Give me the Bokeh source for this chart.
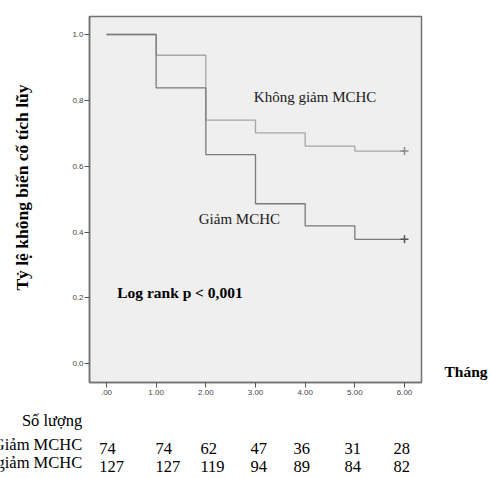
import math
from bokeh.plotting import figure
from bokeh.models import Range1d, Label, FixedTicker
from bokeh.layouts import row, column
from bokeh.embed import file_html
from bokeh.resources import INLINE

# ---- data ----
months = [0, 1, 2, 3, 4, 5, 6]
x_tick_labels = [".00", "1.00", "2.00", "3.00", "4.00", "5.00", "6.00"]
y_ticks = [0.0, 0.2, 0.4, 0.6, 0.8, 1.0]
y_tick_labels = ["0.0", "0.2", "0.4", "0.6", "0.8", "1.0"]

surv_khong_giam = [1.0, 0.937, 0.740, 0.701, 0.661, 0.646]  # Không giảm MCHC
surv_giam = [1.0, 0.838, 0.635, 0.486, 0.419, 0.378]         # Giảm MCHC

group_names = ["Giảm MCHC", "Không giảm MCHC"]
risk_giam = [74, 74, 62, 47, 36, 31, 28]
risk_khong_giam = [127, 127, 119, 94, 89, 84, 82]

# ---- layout constants ----
FONT = "Liberation Serif"
col_x = [-0.147, 0.987, 1.892, 2.899, 3.765, 4.792, 5.778]
X0, X1 = -0.342, 6.342
Y0, Y1 = -0.0568, 1.0547
LEFT_W, MAIN_W, RIGHT_W = 60, 365, 66
TOP_H, TABLE_H = 405, 72
MAIN_BL, MAIN_BR, MAIN_BT, MAIN_BB = 29, 4, 16, 23


def blank(w, h, xr, yr):
    f = figure(width=w, height=h, x_range=xr, y_range=yr,
               x_axis_type=None, y_axis_type=None,
               min_border=0, min_border_left=0, min_border_right=0,
               min_border_top=0, min_border_bottom=0,
               output_backend="svg", toolbar_location=None)
    f.outline_line_color = None
    f.background_fill_color = "white"
    f.border_fill_color = "white"
    f.xgrid.visible = False
    f.ygrid.visible = False
    return f


# ---- main plot ----
p = figure(width=MAIN_W, height=TOP_H,
           min_border_left=MAIN_BL, min_border_right=MAIN_BR,
           min_border_top=MAIN_BT, min_border_bottom=MAIN_BB,
           x_range=Range1d(X0, X1), y_range=Range1d(Y0, Y1),
           output_backend="svg", toolbar_location=None)
p.background_fill_color = "#efefef"
p.border_fill_color = "white"
p.outline_line_color = "#727272"
p.outline_line_width = 1.5
p.xgrid.visible = False
p.ygrid.visible = False

for ax in (p.xaxis[0], p.yaxis[0]):
    ax.axis_line_color = "#727272"
    ax.axis_line_width = 1.5
    ax.major_tick_line_color = "#555555"
    ax.major_tick_in = 0
    ax.major_tick_out = 5
    ax.minor_tick_line_color = None
    ax.major_label_text_font = "Liberation Sans"
    ax.major_label_text_font_size = "8px"
    ax.major_label_text_color = "#444444"
p.xaxis.major_label_standoff = 2
p.yaxis.major_label_standoff = 1

p.xaxis.ticker = FixedTicker(ticks=months)
p.xaxis.major_label_overrides = {m: l for m, l in zip(months, x_tick_labels)}
p.yaxis.ticker = FixedTicker(ticks=y_ticks)
p.yaxis.major_label_overrides = {t: l for t, l in zip(y_ticks, y_tick_labels)}


def step_xy(surv):
    return months[:len(surv)] + [months[-1]], surv + [surv[-1]]


xs, ys = step_xy(surv_khong_giam)
p.step(xs, ys, mode="after", line_color="#a6a6a6", line_width=1.3)
p.scatter([xs[-1]], [ys[-1]], marker="cross", size=8, line_color="#8a8a8a", line_width=1.5)

xs, ys = step_xy(surv_giam)
p.step(xs, ys, mode="after", line_color="#7a7a7a", line_width=1.3)
p.scatter([xs[-1]], [ys[-1]], marker="cross", size=8, line_color="#555555", line_width=1.5)

p.add_layout(Label(x=2.966, y=0.786, text=group_names[1], text_font=FONT,
                   text_font_size="15px", text_color="#1a1a1a"))
p.add_layout(Label(x=1.858, y=0.415, text=group_names[0], text_font=FONT,
                   text_font_size="15px", text_color="#1a1a1a"))
p.add_layout(Label(x=0.215, y=0.191, text="Log rank p < 0,001", text_font=FONT,
                   text_font_size="15.5px", text_font_style="bold", text_color="black"))

# ---- y-axis title (left strip; shares the main y scale, frames are aligned in the row) ----
ylab = blank(LEFT_W, TOP_H, Range1d(0, LEFT_W), Range1d(Y0, Y1))
ylab.add_layout(Label(x=21, y=0.5354, text="Tỷ lệ không biến cố tích lũy", angle=math.pi / 2,
                      text_align="center", text_baseline="middle", text_font=FONT,
                      text_font_size="17.5px", text_font_style="bold", text_color="black"))

# ---- x-axis title (right strip) ----
xlab = blank(RIGHT_W, TOP_H, Range1d(0, RIGHT_W), Range1d(Y0, Y1))
xlab.add_layout(Label(x=19, y=-0.0507, text="Tháng", text_align="left",
                      text_font=FONT, text_font_size="15.5px", text_font_style="bold",
                      text_color="black"))

# ---- number at risk table ----
ppu = (MAIN_W - MAIN_BL - MAIN_BR) / (X1 - X0)
tx0 = X0 - (LEFT_W + MAIN_BL) / ppu
tx1 = tx0 + (LEFT_W + MAIN_W + RIGHT_W) / ppu
tab = blank(LEFT_W + MAIN_W + RIGHT_W, TABLE_H, Range1d(tx0, tx1), Range1d(0, TABLE_H))
row_y = [TABLE_H - 48.3, TABLE_H - 66.3]


def cell(x, y, s, align="left"):
    tab.add_layout(Label(x=x, y=y, text=s, text_align=align, text_font=FONT,
                         text_font_size="16.5px", text_color="black"))


cell(-0.489, TABLE_H - 24, "Số lượng", "right")
for ry, name, counts in zip(row_y, group_names, [risk_giam, risk_khong_giam]):
    cell(-0.489, ry, name, "right")
    for cx, c in zip(col_x, counts):
        cell(cx, ry, str(c))

layout = column(row(ylab, p, xlab, spacing=0), tab, spacing=0)

open("out.html", "w").write(file_html(layout, INLINE))
